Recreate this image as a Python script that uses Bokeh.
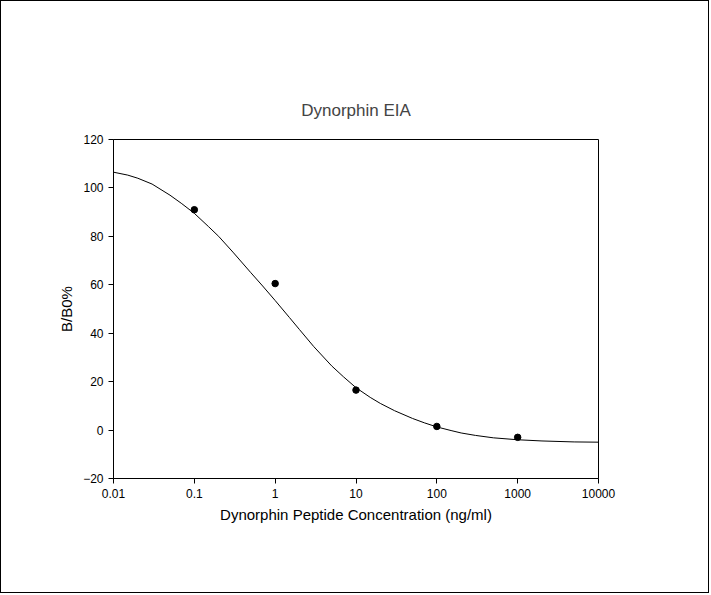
from bokeh.plotting import figure
from bokeh.models import FixedTicker
from bokeh.embed import file_html
from bokeh.resources import INLINE

pt_x = [0.1, 1, 10, 100, 1000]
pt_y = [91, 60.5, 16.5, 1.5, -3]
curve_x = [0.01, 0.015, 0.02, 0.03, 0.05, 0.07, 0.1, 0.15, 0.2, 0.3, 0.5, 0.7, 1, 1.5, 2, 3, 5, 7, 10, 15, 20, 30, 50, 70, 100, 150, 200, 300, 500, 1000, 2000, 5000, 10000]
curve_y = [106.5, 105.3, 104, 101.6, 97, 93.5, 89.5, 84, 80, 73.5, 65, 59.5, 53.5, 46.5, 41.5, 34.5, 26.5, 22, 17.5, 13.5, 11, 8, 4.8, 3, 1.3, -0.2, -1.2, -2.2, -3.2, -4, -4.5, -4.9, -5]
x_ticks = [0.01, 0.1, 1, 10, 100, 1000, 10000]
x_labels = ["0.01", "0.1", "1", "10", "100", "1000", "10000"]
y_ticks = [-20, 0, 20, 40, 60, 80, 100, 120]

F = "Liberation Sans"
p = figure(width=709, height=593, x_axis_type="log", x_range=(0.01, 10000), y_range=(-20, 120),
           output_backend="svg", toolbar_location=None, title="Dynorphin EIA",
           min_border_left=112, min_border_right=112, min_border_top=138, min_border_bottom=116)
p.styles = {"border": "1px solid black"}
p.title.align = "center"
p.title.text_font = F
p.title.text_font_size = "17px"
p.title.text_font_style = "normal"
p.title.standoff = 40
p.outline_line_color = "black"
p.xgrid.visible = False
p.ygrid.visible = False
p.line(curve_x, curve_y, color="black", line_width=1)
p.scatter(pt_x, pt_y, size=6.5, color="black")
p.xaxis.ticker = FixedTicker(ticks=x_ticks)
p.xaxis.major_label_overrides = {t: l for t, l in zip(x_ticks, x_labels)}
p.yaxis.ticker = FixedTicker(ticks=y_ticks)
for ax in (p.xaxis, p.yaxis):
    ax.minor_tick_line_color = None
    ax.major_tick_in = 0
    ax.major_tick_out = 5
    ax.axis_line_color = "black"
    ax.major_label_text_font = F
    ax.major_label_text_font_size = "12px"
    ax.major_label_text_color = "black"
    ax.axis_label_text_font = F
    ax.axis_label_text_font_size = "15px"
    ax.axis_label_text_font_style = "normal"
    ax.axis_label_text_color = "black"
p.xaxis.axis_label = "Dynorphin Peptide Concentration (ng/ml)"
p.yaxis.axis_label = "B/B0%"
open("out.html", "w").write(file_html(p, INLINE))
